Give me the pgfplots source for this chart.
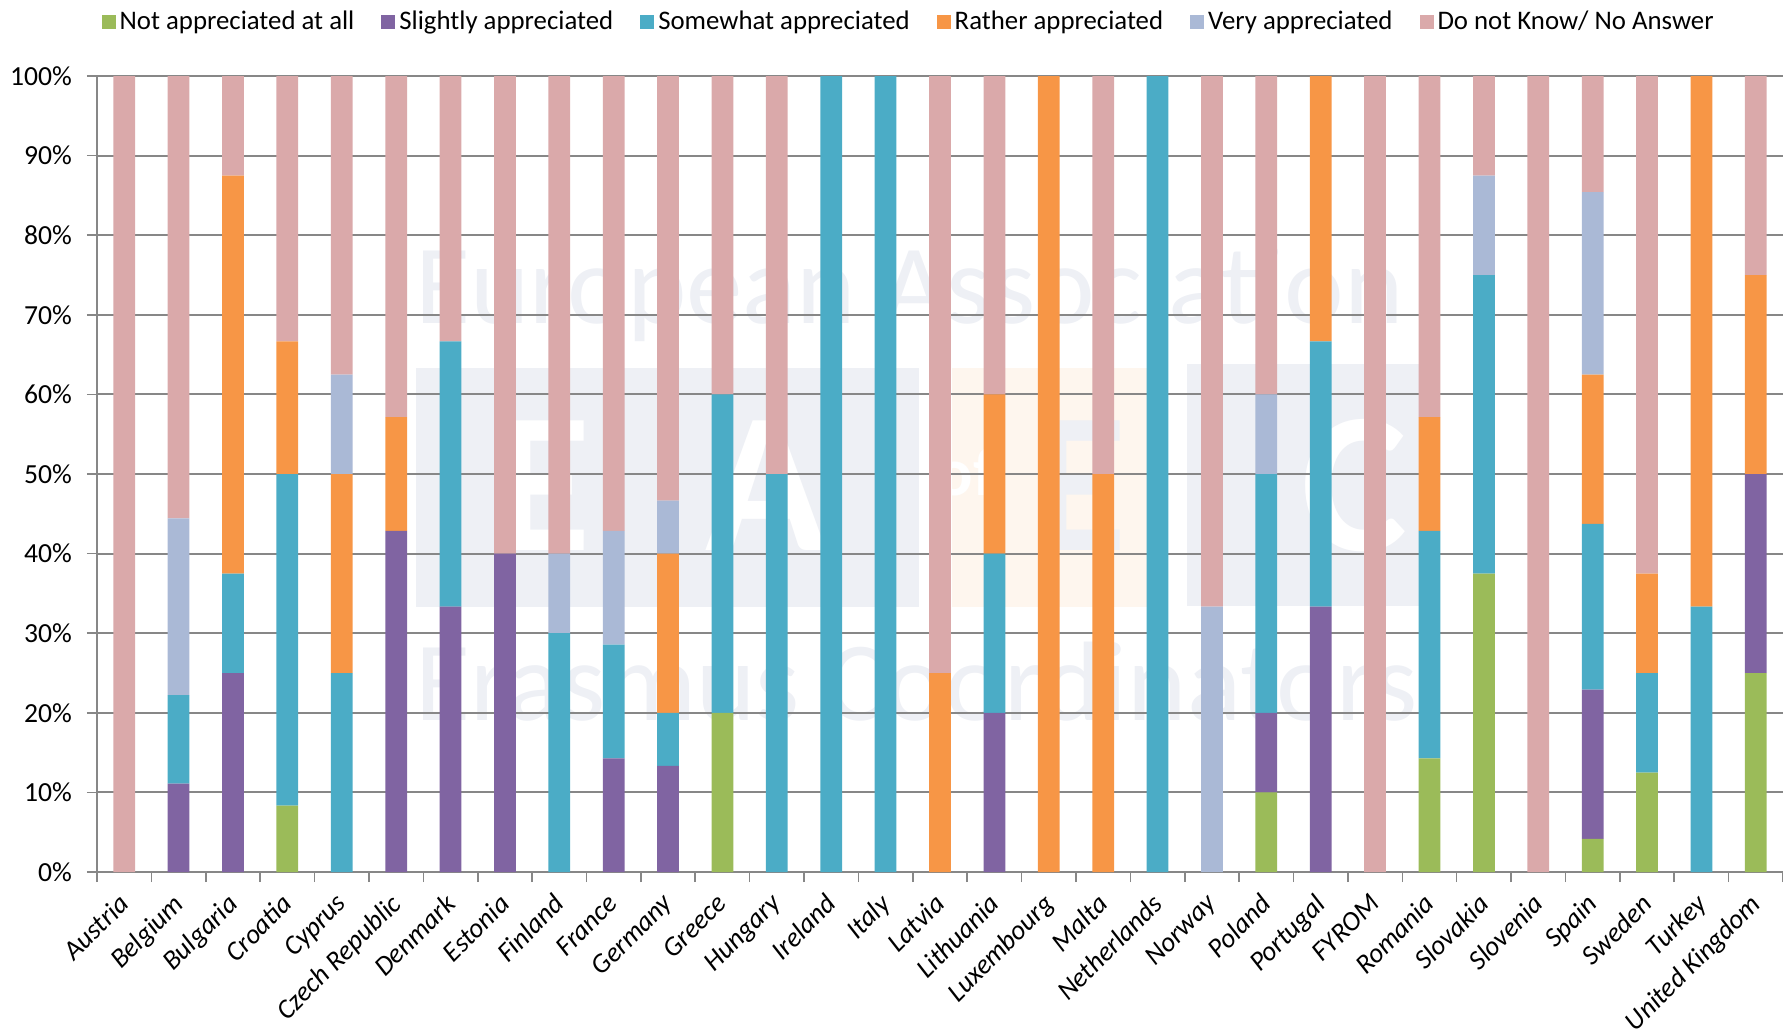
\documentclass[border=0pt]{standalone}
\usepackage{fontspec}
\setmainfont{Carlito}
\usepackage{pgfplots}
\pgfplotsset{compat=1.18}
\usepackage{pgfplotstable}

\definecolor{cG}{HTML}{9BBB59}
\definecolor{cP}{HTML}{8064A2}
\definecolor{cT}{HTML}{4BACC6}
\definecolor{cO}{HTML}{F79646}
\definecolor{cL}{HTML}{AAB9D6}
\definecolor{cK}{HTML}{DAA9AA}
\definecolor{wm}{HTML}{EEF0F5}
\definecolor{wmo}{HTML}{FEF6EE}
\definecolor{gridc}{HTML}{878787}

\pgfplotstableread{
x g p t o l k
0 0 0 0 0 0 100
1 0 11.11 11.11 0 22.22 55.56
2 0 25 12.5 50 0 12.5
3 8.33 0 41.67 16.67 0 33.33
4 0 0 25 25 12.5 37.5
5 0 42.86 0 14.29 0 42.85
6 0 33.33 33.33 0 0 33.34
7 0 40 0 0 0 60
8 0 0 30 0 10 60
9 0 14.29 14.29 0 14.29 57.13
10 0 13.33 6.67 20 6.67 53.33
11 20 0 40 0 0 40
12 0 0 50 0 0 50
13 0 0 100 0 0 0
14 0 0 100 0 0 0
15 0 0 0 25 0 75
16 0 20 20 20 0 40
17 0 0 0 100 0 0
18 0 0 0 50 0 50
19 0 0 100 0 0 0
20 0 0 0 0 33.33 66.67
21 10 10 30 0 10 40
22 0 33.33 33.33 33.34 0 0
23 0 0 0 0 0 100
24 14.29 0 28.57 14.29 0 42.85
25 37.5 0 37.5 0 12.5 12.5
26 0 0 0 0 0 100
27 4.17 18.75 20.83 18.75 22.92 14.58
28 12.5 0 12.5 12.5 0 62.5
29 0 0 33.33 66.67 0 0
30 25 25 0 25 0 25
}\data

\begin{document}
\begin{tikzpicture}
\useasboundingbox (0pt,0pt) rectangle (891.5pt,-517pt);
% background watermark
\fill[wm] (208pt,-184pt) rectangle (459.5pt,-303.5pt);
\fill[wmo] (476pt,-184pt) rectangle (573.5pt,-303.5pt);
\fill[wm] (593.5pt,-182pt) rectangle (711pt,-303pt);
\node[text=white, font=\bfseries\fontsize{100pt}{100pt}\selectfont, inner sep=0pt] at (271pt,-243pt) {E};
\node[text=white, font=\bfseries\fontsize{100pt}{100pt}\selectfont, inner sep=0pt] at (383pt,-243pt) {A};
\node[text=white, font=\bfseries\fontsize{34pt}{34pt}\selectfont, inner sep=0pt] at (483pt,-236pt) {of};
\node[text=wm, font=\bfseries\fontsize{100pt}{100pt}\selectfont, inner sep=0pt] at (539pt,-243pt) {E};
\node[text=white, font=\bfseries\fontsize{100pt}{100pt}\selectfont, inner sep=0pt] at (677pt,-243pt) {C};
\node[anchor=base west, text=wm, font=\fontsize{56.5pt}{60pt}\selectfont, inner sep=0pt] at (207.5pt,-161.5pt) {European Association};
\node[anchor=base west, text=wm, font=\fontsize{56.5pt}{60pt}\selectfont, inner sep=0pt] at (207.5pt,-360pt) {Erasmus Coordinators};
\begin{axis}[
  at={(48.5pt,-436pt)}, anchor=south west,
  scale only axis, width=843pt, height=398pt,
  ybar stacked, bar width=0.4,
  xmin=-0.5, xmax=30.5, ymin=0, ymax=100,
  axis x line*=bottom, axis y line*=left,
  axis line style={gridc, line width=0.8pt},
  ymajorgrids, grid style={gridc, line width=1pt},
  tick align=outside,
  tick style={gridc, line width=0.8pt},
  major tick length=5pt, minor tick length=5pt,
  major x tick style={draw=none},
  xtick={0,...,30},
  minor xtick={-0.5,0.5,...,30.5},
  xticklabels={Austria,Belgium,Bulgaria,Croatia,Cyprus,Czech Republic,Denmark,Estonia,Finland,France,Germany,Greece,Hungary,Ireland,Italy,Latvia,Lithuania,Luxembourg,Malta,Netherlands,Norway,Poland,Portugal,FYROM,Romania,Slovakia,Slovenia,Spain,Sweden,Turkey,United Kingdom},
  xticklabel style={rotate=45, anchor=north east, font=\itshape\fontsize{13.7pt}{16pt}\selectfont, inner sep=1pt, xshift=-5pt, yshift=0pt},
  ytick={0,10,...,100},
  yticklabels={0\%,10\%,20\%,30\%,40\%,50\%,60\%,70\%,80\%,90\%,100\%},
  yticklabel style={font=\fontsize{13.8pt}{16pt}\selectfont, xshift=-4pt},
  legend columns=6,
  legend style={at={(axis description cs:0.482,1.068)}, anchor=center, draw=none, fill=none,
    font=\fontsize{13.4pt}{15pt}\selectfont,
    /tikz/every even column/.append style={column sep=11.5pt}},
  legend image code/.code={\fill[#1] (0pt,-3.5pt) rectangle (7pt,3.5pt);},
]
\addplot[fill=cG, draw=none] table[x=x, y=g]{\data};
\addlegendentry{Not appreciated at all}
\addplot[fill=cP, draw=none] table[x=x, y=p]{\data};
\addlegendentry{Slightly appreciated}
\addplot[fill=cT, draw=none] table[x=x, y=t]{\data};
\addlegendentry{Somewhat appreciated}
\addplot[fill=cO, draw=none] table[x=x, y=o]{\data};
\addlegendentry{Rather appreciated}
\addplot[fill=cL, draw=none] table[x=x, y=l]{\data};
\addlegendentry{Very appreciated}
\addplot[fill=cK, draw=none] table[x=x, y=k]{\data};
\addlegendentry{Do not Know/ No Answer}
\end{axis}
\end{tikzpicture}
\end{document}
